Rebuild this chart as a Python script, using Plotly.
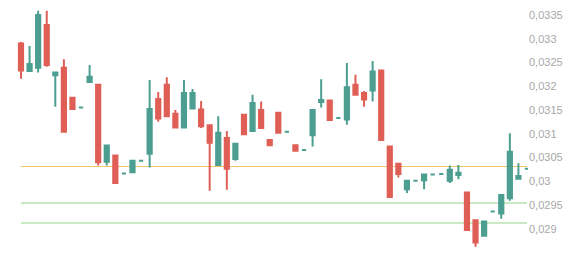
import plotly.graph_objects as go

opens = [0.03290, 0.03232, 0.03239, 0.03329, 0.03223, 0.03239, 0.03176, 0.03155, 0.03209, 0.03203,
         0.03041, 0.03054, 0.03016, 0.03019, 0.03043, 0.03058, 0.03173, 0.03203, 0.03142, 0.03113,
         0.03153, 0.03151, 0.03118, 0.03034, 0.03091, 0.03047, 0.03140, 0.03106, 0.03150, 0.03087,
         0.03144, 0.03104, 0.03076, 0.03066, 0.03097, 0.03167, 0.03170, 0.03133, 0.03130, 0.03203,
         0.03186, 0.03191, 0.03233, 0.03073, 0.03037, 0.02983, 0.03001, 0.03002, 0.03014, 0.03015,
         0.03001, 0.03013, 0.02976, 0.02918, 0.02885, 0.02936, 0.02932, 0.02964, 0.03005, 0.03026]
highs = [0.03293, 0.03285, 0.03359, 0.03359, 0.03229, 0.03257, 0.03176, 0.03155, 0.03245, 0.03203,
         0.03075, 0.03054, 0.03016, 0.03045, 0.03043, 0.03213, 0.03188, 0.03219, 0.03150, 0.03213,
         0.03194, 0.03169, 0.03118, 0.03137, 0.03106, 0.03079, 0.03140, 0.03182, 0.03168, 0.03087,
         0.03144, 0.03104, 0.03076, 0.03066, 0.03150, 0.03215, 0.03170, 0.03133, 0.03249, 0.03224,
         0.03190, 0.03253, 0.03233, 0.03073, 0.03037, 0.03001, 0.03001, 0.03014, 0.03014, 0.03015,
         0.03033, 0.03034, 0.02976, 0.02918, 0.02915, 0.02937, 0.02971, 0.03101, 0.03038, 0.03026]
lows = [0.03216, 0.03231, 0.03229, 0.03241, 0.03157, 0.03104, 0.03152, 0.03155, 0.03209, 0.03033,
        0.03033, 0.02994, 0.03016, 0.03017, 0.03043, 0.03029, 0.03125, 0.03137, 0.03113, 0.03113,
        0.03152, 0.03112, 0.02980, 0.03033, 0.02982, 0.03043, 0.03097, 0.03106, 0.03112, 0.03076,
        0.03102, 0.03104, 0.03064, 0.03066, 0.03073, 0.03155, 0.03129, 0.03133, 0.03119, 0.03182,
        0.03157, 0.03168, 0.03087, 0.02967, 0.03008, 0.02975, 0.03001, 0.02983, 0.03014, 0.03015,
        0.02996, 0.03004, 0.02897, 0.02862, 0.02885, 0.02935, 0.02921, 0.02959, 0.03005, 0.03026]
closes = [0.03233, 0.03247, 0.03350, 0.03245, 0.03229, 0.03104, 0.03152, 0.03155, 0.03220, 0.03040,
          0.03075, 0.02996, 0.03016, 0.03043, 0.03043, 0.03152, 0.03132, 0.03137, 0.03113, 0.03186,
          0.03186, 0.03116, 0.03081, 0.03102, 0.03026, 0.03079, 0.03099, 0.03165, 0.03112, 0.03076,
          0.03102, 0.03104, 0.03064, 0.03066, 0.03150, 0.03171, 0.03129, 0.03133, 0.03198, 0.03182,
          0.03172, 0.03231, 0.03087, 0.02967, 0.03015, 0.03001, 0.03001, 0.03014, 0.03014, 0.03015,
          0.03024, 0.03018, 0.02897, 0.02871, 0.02915, 0.02936, 0.02971, 0.03062, 0.03011, 0.03026]

level_orange = 0.03031
levels_green = [0.02954, 0.02912]

x = list(range(len(opens)))

UP = "#4c9e91"
DOWN = "#df5f57"

fig = go.Figure(go.Candlestick(
    x=x, open=opens, high=highs, low=lows, close=closes,
    increasing=dict(line=dict(color=UP, width=2), fillcolor=UP),
    decreasing=dict(line=dict(color=DOWN, width=2), fillcolor=DOWN),
    whiskerwidth=0,
    hoverinfo="skip",
))

shapes = [dict(type="line", xref="x", yref="y", x0=x[0], x1=x[-1], y0=level_orange, y1=level_orange,
               line=dict(color="#efc468", width=1), layer="below")]
for lv in levels_green:
    shapes.append(dict(type="line", xref="x", yref="y", x0=x[0], x1=x[-1], y0=lv, y1=lv,
                       line=dict(color="#93d587", width=1), layer="below"))

fig.update_layout(
    width=584, height=258,
    margin=dict(l=17, r=56, t=5, b=8),
    paper_bgcolor="white", plot_bgcolor="white",
    showlegend=False,
    separators=",.",
    shapes=shapes,
    xaxis=dict(visible=False, range=[-0.466, 59.117], rangeslider=dict(visible=False), fixedrange=True),
    yaxis=dict(side="right", range=[0.0285514, 0.0337114], tick0=0.029, dtick=0.0005,
               showgrid=False, zeroline=False, showline=False, ticks="",
               tickfont=dict(family="Liberation Sans, Arial", size=11, color="#a8a8a8"),
               fixedrange=True),
)

fig.write_html("out.html", config={"displayModeBar": False})
